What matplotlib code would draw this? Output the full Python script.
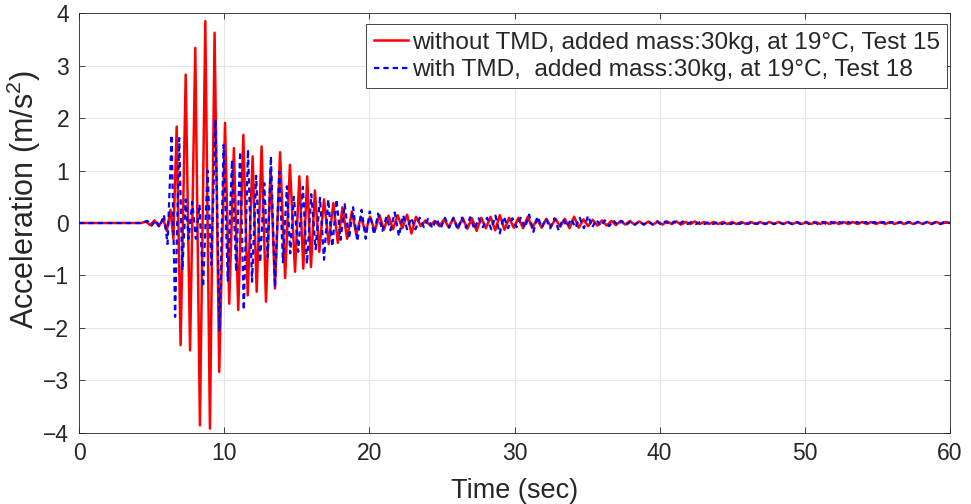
import matplotlib
matplotlib.use("Agg")
import matplotlib.pyplot as plt

plt.rcParams['font.family'] = ['Liberation Sans', 'DejaVu Sans']
plt.rcParams['mathtext.fontset'] = 'custom'
plt.rcParams['mathtext.rm'] = 'Liberation Sans'
plt.rcParams['mathtext.it'] = 'Liberation Sans:italic'
plt.rcParams['mathtext.default'] = 'regular'

# ---- data: extrema (time [s], acceleration [m/s^2]) ----
red_quiet = [(0.0, 0.0), (4.3, 0.0), (4.6, 0.03), (4.9, -0.04), (5.2, 0.05),
             (5.5, -0.06), (5.8, 0.08), (6.05, -0.15), (6.3, 0.25), (6.5, -0.3)]
red_main = [(6.73, 1.84), (7.00, -2.33), (7.35, 2.83), (7.65, -2.43), (8.01, 3.34),
            (8.33, -3.86), (8.70, 3.85), (9.02, -3.92), (9.34, 3.63), (9.66, -2.84),
            (10.06, 1.91), (10.35, -1.54), (10.67, 1.43), (10.97, -1.66), (11.32, 1.68),
            (11.62, -1.38), (11.96, 1.27), (12.24, -1.31), (12.58, 1.46), (12.88, -1.50),
            (13.2, 1.05), (13.5, -1.25), (13.85, 1.35), (14.2, -1.05), (14.53, 1.11),
            (14.88, -0.93), (15.18, 0.89), (15.45, -0.87), (15.72, 0.89), (15.98, -0.84),
            (16.25, 0.62), (16.55, -0.55), (16.88, 0.45), (17.2, -0.4), (17.52, 0.38),
            (17.83, -0.38), (18.15, 0.3), (18.47, -0.3), (18.8, 0.22), (19.1, -0.22),
            (19.42, 0.12), (19.73, -0.17), (20.05, 0.12), (20.37, -0.15), (20.7, 0.15),
            (21.0, -0.13), (21.32, 0.14), (21.63, -0.12), (21.95, 0.15), (22.27, -0.1),
            (22.6, 0.16), (22.9, -0.2), (23.22, 0.12)]
red_tail = [(23.55, -0.06), (23.87, 0.05), (24.19, -0.05), (24.51, 0.04), (24.83, -0.06),
            (25.15, 0.07), (25.47, -0.08), (25.79, 0.09), (26.11, -0.1), (26.43, 0.1),
            (26.75, -0.11), (27.07, 0.09), (27.39, -0.15), (27.71, 0.1), (28.03, -0.1),
            (28.35, 0.12), (28.67, -0.14), (28.99, 0.15), (29.31, -0.13), (29.63, 0.1),
            (29.95, -0.09), (30.27, 0.1), (30.59, -0.1), (30.91, 0.12), (31.23, -0.1),
            (31.55, 0.08), (31.87, -0.09), (32.19, 0.08), (32.51, -0.07), (32.83, 0.08),
            (33.15, -0.07), (33.47, 0.08), (33.79, -0.1), (34.11, 0.12), (34.43, -0.09),
            (34.75, 0.07), (35.07, -0.06), (35.39, 0.06), (35.71, -0.05), (36.03, 0.05),
            (36.35, -0.05), (36.67, 0.04), (36.99, -0.04), (37.31, 0.04), (37.63, -0.03),
            (37.95, 0.04), (38.27, -0.03), (38.59, 0.03), (38.91, -0.03), (39.23, 0.03),
            (39.55, -0.03), (39.87, 0.03), (40.19, -0.03), (40.51, 0.03), (40.83, -0.02),
            (41.15, 0.03), (41.47, -0.03), (41.79, 0.02), (42.11, -0.02), (42.43, 0.03),
            (42.75, -0.02), (43.07, 0.02), (43.39, -0.02), (43.71, 0.02), (44.03, -0.02),
            (44.35, 0.02), (44.67, -0.02), (44.99, 0.02), (45.31, -0.02), (45.63, 0.02),
            (45.95, -0.02), (46.27, 0.02), (46.59, -0.02), (46.91, 0.02), (47.23, -0.02),
            (47.55, 0.02), (47.87, -0.02), (48.19, 0.02), (48.51, -0.02), (48.83, 0.02),
            (49.15, -0.02), (49.47, 0.02), (49.79, -0.02), (50.11, 0.02), (50.43, -0.02),
            (50.75, 0.02), (51.07, -0.02), (51.39, 0.02), (51.71, -0.02), (52.03, 0.02),
            (52.35, -0.02), (52.67, 0.02), (52.99, -0.02), (53.31, 0.02), (53.63, -0.02),
            (53.95, 0.02), (54.27, -0.02), (54.59, 0.02), (54.91, -0.02), (55.23, 0.02),
            (55.55, -0.02), (55.87, 0.02), (56.19, -0.02), (56.51, 0.02), (56.83, -0.02),
            (57.15, 0.02), (57.47, -0.02), (57.79, 0.02), (58.11, -0.02), (58.43, 0.02),
            (58.75, -0.02), (59.07, 0.02), (59.39, -0.02), (59.71, 0.02), (60.0, 0.0)]

blue_quiet = [(0.0, 0.0), (4.4, 0.0), (4.7, 0.04), (5.0, -0.05), (5.3, 0.05),
              (5.55, -0.08), (5.85, 0.15), (6.1, -0.4)]
blue_main = [(6.38, 1.68), (6.62, -1.79), (6.90, 1.62), (7.12, -0.9), (7.35, 0.45),
             (7.55, -0.3), (7.8, 0.4), (8.05, -0.3), (8.3, 0.35), (8.55, -1.22),
             (8.85, 1.0), (9.12, -0.8), (9.4, 1.97), (9.68, -2.05), (9.96, 1.49),
             (10.25, -1.1), (10.54, 1.2), (10.83, -0.93), (11.1, 1.36), (11.35, -1.66),
             (11.64, 1.40), (11.92, -1.12), (12.2, 0.9), (12.48, -0.75), (12.76, 0.76),
             (13.0, -0.65), (13.22, 1.27), (13.5, -1.22), (13.8, 0.98), (14.05, -0.75),
             (14.32, 0.7), (14.55, -0.58), (14.8, 0.5), (15.1, -0.55), (15.42, 0.69),
             (15.7, -0.78), (16.0, 0.55), (16.3, -0.5), (16.6, 0.48), (16.88, -0.7),
             (17.17, 0.45), (17.45, -0.45), (17.74, 0.45), (18.02, -0.32), (18.3, 0.36),
             (18.6, -0.3), (18.88, 0.3), (19.17, -0.35), (19.46, 0.25), (19.75, -0.3),
             (20.03, 0.22), (20.32, -0.22), (20.6, 0.18), (20.9, -0.15), (21.18, 0.12),
             (21.46, -0.14), (21.75, 0.2), (22.04, -0.25), (22.33, 0.15)]
blue_tail = [(22.6, -0.12), (22.89, 0.1), (23.18, -0.12), (23.47, 0.1), (23.76, -0.08),
             (24.05, 0.08), (24.34, -0.1), (24.63, 0.08), (24.92, -0.1), (25.21, 0.1),
             (25.5, -0.09), (25.79, 0.1), (26.08, -0.12), (26.37, 0.1), (26.66, -0.09),
             (26.95, 0.11), (27.24, -0.12), (27.53, 0.09), (27.82, -0.08), (28.11, 0.1),
             (28.4, -0.12), (28.69, 0.14), (28.98, -0.2), (29.27, 0.12), (29.56, -0.1),
             (29.85, 0.09), (30.14, -0.08), (30.43, 0.1), (30.72, -0.09), (31.01, 0.16),
             (31.3, -0.17), (31.59, 0.12), (31.88, -0.08), (32.17, 0.08), (32.46, -0.1),
             (32.75, 0.09), (33.04, -0.14), (33.33, 0.08), (33.62, -0.07), (33.91, 0.08),
             (34.2, -0.09), (34.49, 0.1), (34.78, -0.1), (35.07, 0.14), (35.36, -0.08),
             (35.65, 0.06), (35.94, -0.06), (36.23, 0.05), (36.52, -0.06), (36.81, 0.05),
             (37.1, -0.04), (37.39, 0.04), (37.68, -0.04), (38.0, 0.03), (38.3, -0.03),
             (38.6, 0.03), (38.9, -0.03), (39.2, 0.03), (39.5, -0.03), (39.8, 0.03),
             (40.1, -0.03), (40.4, 0.03), (40.7, -0.03), (41.0, 0.03), (41.3, -0.03),
             (41.6, 0.03), (41.9, -0.02), (42.2, 0.02), (42.5, -0.02), (42.8, 0.02),
             (43.1, -0.02), (43.4, 0.02), (43.7, -0.02), (44.0, 0.02), (44.3, -0.02),
             (44.6, 0.02), (44.9, -0.02), (45.2, 0.02), (45.5, -0.02), (45.8, 0.02),
             (46.1, -0.02), (46.4, 0.02), (46.7, -0.02), (47.0, 0.02), (47.3, -0.02),
             (47.6, 0.02), (47.9, -0.02), (48.2, 0.02), (48.5, -0.02), (48.8, 0.02),
             (49.1, -0.02), (49.4, 0.02), (49.7, -0.02), (50.0, 0.02), (50.3, -0.02),
             (50.6, 0.02), (50.9, -0.02), (51.2, 0.02), (51.5, -0.02), (51.8, 0.02),
             (52.1, -0.02), (52.4, 0.02), (52.7, -0.02), (53.0, 0.02), (53.3, -0.02),
             (53.6, 0.02), (53.9, -0.02), (54.2, 0.02), (54.5, -0.02), (54.8, 0.02),
             (55.1, -0.02), (55.4, 0.02), (55.7, -0.02), (56.0, 0.02), (56.3, -0.02),
             (56.6, 0.02), (56.9, -0.02), (57.2, 0.02), (57.5, -0.02), (57.8, 0.02),
             (58.1, -0.02), (58.4, 0.02), (58.7, -0.02), (59.0, 0.02), (59.3, -0.02),
             (59.6, 0.02), (60.0, 0.0)]

labels = ["without TMD, added mass:30kg, at 19\u00b0C, Test 15",
          "with TMD,  added mass:30kg, at 19\u00b0C, Test 18"]
x_ticks = [0, 10, 20, 30, 40, 50, 60]
y_ticks = [-4, -3, -2, -1, 0, 1, 2, 3, 4]

red_t, red_v = zip(*(red_quiet + red_main + red_tail))
blue_t, blue_v = zip(*(blue_quiet + blue_main + blue_tail))

TXT = '#262626'
fig = plt.figure(figsize=(9.71, 5.04), dpi=100)
ax = fig.add_axes([79 / 971, (504 - 432.7) / 504, (950 - 79) / 971, (432.7 - 13.3) / 504])

ax.plot(red_t, red_v, color='#ff0000', lw=1.8, label=labels[0], zorder=3)
ax.plot(blue_t, blue_v, color='#0000ff', lw=1.6, dashes=(2.4, 1.8), label=labels[1], zorder=4)

ax.set_xlim(0, 60)
ax.set_ylim(-4, 4)
ax.set_xticks(x_ticks)
ax.set_yticks(y_ticks)
ax.grid(True, color='#e6e6e6', lw=0.8, zorder=0)
ax.set_axisbelow(True)
for s in ax.spines.values():
    s.set_color(TXT)
    s.set_linewidth(0.6)
ax.tick_params(direction='in', length=4, width=0.6, colors=TXT, labelsize=16.5,
               top=True, right=True, pad=7)
ax.set_xlabel('Time (sec)', fontsize=19.5, color=TXT, labelpad=9)
ax.set_ylabel('Acceleration (m/s$^2$)', fontsize=22, color=TXT)
ax.yaxis.set_label_coords(-0.041, 0.555)

leg = ax.legend(loc='upper right', bbox_to_anchor=(0.9966, 0.974), borderaxespad=0,
                fontsize=17.6, frameon=True, fancybox=False, framealpha=1,
                handlelength=1.4, handletextpad=0.15, borderpad=0.3, labelspacing=0.22)
leg.get_frame().set_edgecolor(TXT)
leg.get_frame().set_linewidth(0.6)
for t in leg.get_texts():
    t.set_color(TXT)

fig.savefig('out.png', dpi=100)
